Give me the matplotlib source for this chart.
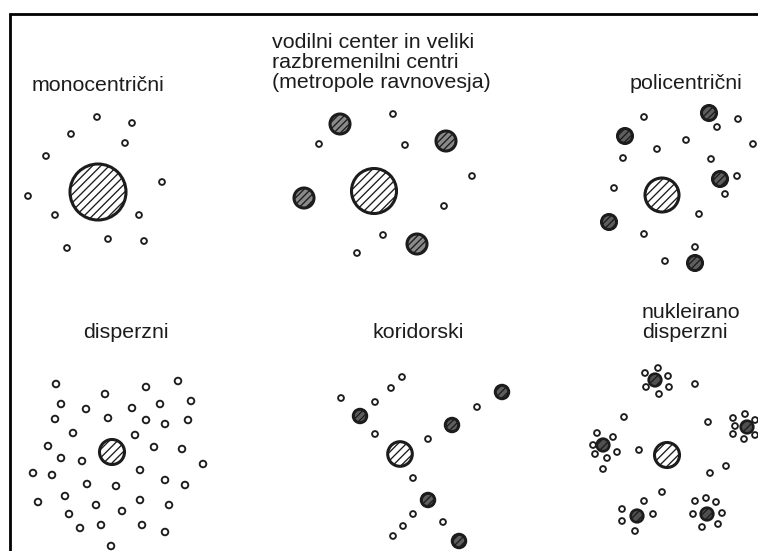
import matplotlib
matplotlib.use("Agg")
import matplotlib.pyplot as plt
from matplotlib.patches import Circle

plt.rcParams['hatch.linewidth'] = 0.95

W, H = 758, 551

# ---------- data (diagram coordinates, pixels from top-left) ----------
titles = [
    (32, 91, "monocentrični"),
    (272, 48, "vodilni center in veliki"),
    (272, 68, "razbremenilni centri"),
    (272, 88, "(metropole ravnovesja)"),
    (630, 89, "policentrični"),
    (83, 338, "disperzni"),
    (372, 338, "koridorski"),
    (642, 318, "nukleirano"),
    (642, 338, "disperzni"),
]

# main centres (x, y, r)
main_x = [98, 374, 662, 112, 400, 667]
main_y = [192, 191, 195, 452, 454, 455]
main_r = [28, 22.5, 17, 12.5, 12.3, 12.5]

# secondary centres: vodilni (light), policentrični/koridorski (dark)
sec_x = [340, 446, 304, 417,
         709, 625, 720, 609, 695,
         360, 452, 502, 428, 459]
sec_y = [124, 141, 198, 244,
         113, 136, 179, 222, 263,
         416, 425, 392, 500, 541]
sec_r = [10, 10, 10, 10,
         7.5, 7.5, 7.5, 7.5, 7.5,
         6.7, 6.7, 6.7, 6.7, 6.7]

# nuclei of nukleirano disperzni
nuc_x = [655, 747, 603, 637, 707]
nuc_y = [380, 427, 445, 516, 514]

# small settlements
mono_x = [97, 132, 71, 125, 46, 162, 28, 55, 139, 108, 144, 67]
mono_y = [117, 123, 134, 143, 156, 182, 196, 215, 215, 239, 241, 248]

vod_x = [393, 319, 405, 472, 444, 383, 357]
vod_y = [114, 144, 145, 176, 206, 235, 253]

poli_x = [644, 738, 717, 686, 753, 657, 623, 711, 737, 614, 725, 699, 644, 695, 665]
poli_y = [117, 119, 127, 140, 144, 149, 158, 159, 176, 188, 194, 214, 234, 247, 261]

disp_x = [56, 178, 146, 105, 61, 191, 86, 132, 160, 55, 108, 146, 165, 188, 73, 135,
          48, 154, 182, 61, 82, 203, 33, 52, 140, 165, 87, 116, 185, 65, 38, 140,
          96, 169, 122, 69, 80, 101, 142, 165, 111]
disp_y = [384, 381, 387, 394, 404, 401, 409, 408, 404, 419, 418, 420, 424, 420, 433, 435,
          446, 447, 449, 458, 461, 464, 473, 475, 470, 480, 484, 486, 485, 496, 502, 500,
          505, 505, 511, 514, 528, 525, 525, 532, 546]

kor_x = [402, 391, 341, 375, 477, 375, 428, 413, 413, 443, 403, 393]
kor_y = [377, 388, 398, 402, 407, 434, 439, 478, 514, 522, 526, 536]

nuk_x = [658, 645, 668, 646, 669, 659,
         745, 733, 755, 735, 733, 744, 755,
         597, 613, 593, 595, 617, 607, 603,
         644, 622, 653, 622, 635,
         695, 706, 716, 693, 722, 702, 718,
         695, 624, 708, 639, 710, 726, 662]
nuk_y = [368, 373, 376, 387, 387, 394,
         414, 418, 420, 426, 434, 439, 435,
         433, 437, 445, 454, 452, 458, 469,
         501, 509, 514, 521, 531,
         501, 498, 502, 514, 513, 527, 524,
         384, 417, 422, 450, 473, 466, 492]

small_r_mono = 2.9
small_r_disp = 3.3

# ---------- drawing ----------
fig = plt.figure(figsize=(W / 100, H / 100), dpi=100)
ax = fig.add_axes([0, 0, 1, 1])
ax.set_xlim(0, W)
ax.set_ylim(H, 0)
ax.set_aspect('auto')
ax.axis('off')

ink = '#1c1c1c'

# frame
ax.plot([10.3, 10.3, W], [H, 14, 14], color='black', lw=2.0, solid_capstyle='butt',
        solid_joinstyle='miter')

for x, y, t in titles:
    ax.text(x, y, t, ha='left', va='baseline', fontsize=15.4,
            family=['Liberation Sans', 'DejaVu Sans'], color=ink)

for x, y, r in zip(main_x, main_y, main_r):
    ax.add_patch(Circle((x, y), r, facecolor='white', edgecolor=ink,
                        hatch='////', lw=2.2, zorder=3))

for i, (x, y, r) in enumerate(zip(sec_x, sec_y, sec_r)):
    fc = '#8a8a8a' if i < 4 else '#5e5e5e'
    ax.add_patch(Circle((x, y), r, facecolor=fc, edgecolor=ink,
                        hatch='/////', lw=2.2, zorder=3))

for x, y in zip(nuc_x, nuc_y):
    ax.add_patch(Circle((x, y), 6.3, facecolor='#505050', edgecolor=ink,
                        hatch='////', lw=1.9, zorder=3))

def smalls(xs, ys, r, lw=1.35):
    for x, y in zip(xs, ys):
        ax.add_patch(Circle((x, y), r, facecolor='white', edgecolor=ink,
                            lw=lw, zorder=3))

smalls(mono_x, mono_y, small_r_mono)
smalls(vod_x, vod_y, small_r_mono)
smalls(poli_x, poli_y, small_r_mono)
smalls(disp_x, disp_y, small_r_disp)
smalls(kor_x, kor_y, small_r_mono)
smalls(nuk_x, nuk_y, small_r_mono)

fig.savefig('out.png', dpi=100, facecolor='white')
